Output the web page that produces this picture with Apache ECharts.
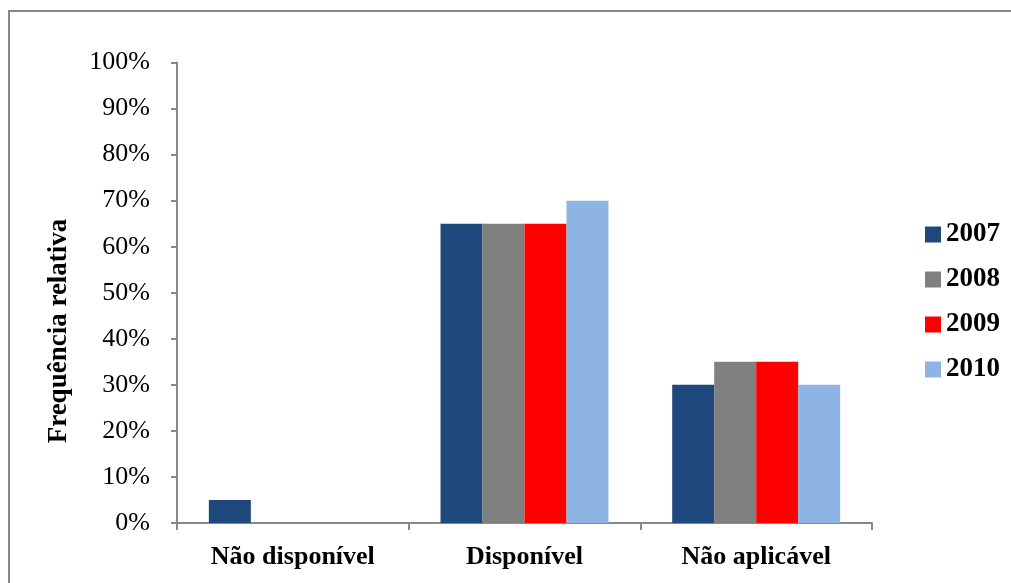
<!DOCTYPE html>
<html>
<head>
<meta charset="utf-8">
<script src="https://cdn.jsdelivr.net/npm/echarts@6/dist/echarts.min.js"></script>
<style>
  html, body { margin: 0; padding: 0; background: #fff; }
  #chart { width: 1011px; height: 583px; }
</style>
</head>
<body>
<div id="chart"></div>
<script>
// Categories and yearly shares (percent)
const categories = ['Não disponível', 'Disponível', 'Não aplicável'];
const years = ['2007', '2008', '2009', '2010'];
const values2007 = [5, 65, 30];
const values2008 = [0, 65, 35];
const values2009 = [0, 65, 35];
const values2010 = [0, 70, 30];
const yTicks = [0, 10, 20, 30, 40, 50, 60, 70, 80, 90, 100];
const yAxisTitle = 'Frequência relativa';

const seriesValues = [values2007, values2008, values2009, values2010];
const colors = ['#1F497D', '#808080', '#FF0000', '#8EB4E3'];
const serif = '"Liberation Serif", "Times New Roman", serif';

const chart = echarts.init(document.getElementById('chart'), null, { renderer: 'canvas' });

chart.setOption({
  animation: false,
  backgroundColor: '#fff',
  graphic: [{
    type: 'rect',
    shape: { x: 9, y: 11, width: 1100, height: 700 },
    style: { fill: 'none', stroke: '#878787', lineWidth: 2 },
    silent: true
  }, {
    // vertical axis title, placed a little below the plot's middle
    type: 'text',
    x: 59,
    y: 331,
    rotation: Math.PI / 2,
    style: {
      text: yAxisTitle,
      fontFamily: serif, fontWeight: 'bold', fontSize: 27, fill: '#000',
      align: 'center', verticalAlign: 'middle'
    },
    silent: true
  }],
  legend: {
    orient: 'vertical',
    left: 920,
    top: 216,
    itemWidth: 16,
    itemHeight: 16,
    itemGap: 18,
    icon: 'rect',
    textStyle: { fontFamily: serif, fontWeight: 'bold', fontSize: 27, color: '#000' },
    data: years
  },
  grid: {
    left: 177,
    right: 1011 - 872,
    top: 62.5,
    bottom: 583 - 523,
    containLabel: false
  },
  xAxis: {
    type: 'category',
    data: categories,
    axisLine: { lineStyle: { color: '#898989', width: 2 } },
    axisTick: { show: true, length: 7, alignWithLabel: false, lineStyle: { color: '#898989', width: 2 } },
    axisLabel: {
      fontFamily: serif, fontWeight: 'bold', fontSize: 26, color: '#000', margin: 21
    }
  },
  yAxis: {
    type: 'value',
    min: 0,
    max: 100,
    interval: 10,
    axisLine: { show: true, lineStyle: { color: '#898989', width: 2 } },
    axisTick: { show: true, length: 6, lineStyle: { color: '#898989', width: 2 } },
    splitLine: { show: false },
    axisLabel: {
      fontFamily: serif, fontSize: 26, color: '#000', margin: 27,
      customValues: yTicks,
      formatter: v => v + '%'
    }
  },
  series: years.map((y, i) => ({
    name: y,
    type: 'bar',
    data: seriesValues[i],
    itemStyle: { color: colors[i] },
    barGap: '0%',
    barCategoryGap: '27.5%'
  }))
});
</script>
</body>
</html>
